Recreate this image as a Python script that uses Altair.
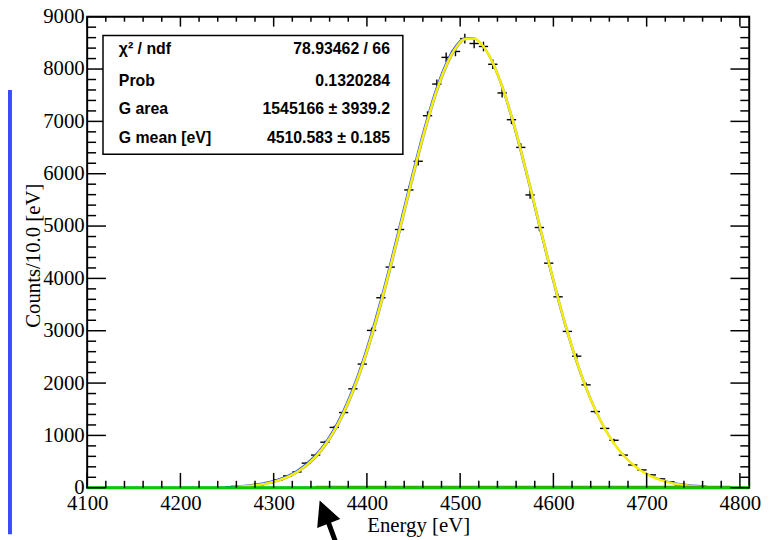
import altair as alt
import pandas as pd

# ---------------- data ----------------
energy = [4255, 4265, 4275, 4285, 4295, 4305, 4315, 4325, 4335, 4345,
          4355, 4365, 4375, 4385, 4395, 4405, 4415, 4425, 4435, 4445,
          4455, 4465, 4475, 4485, 4495, 4505, 4515, 4525, 4535, 4545,
          4555, 4565, 4575, 4585, 4595, 4605, 4615, 4625, 4635, 4645,
          4655, 4665, 4675, 4685, 4695, 4705, 4715, 4725, 4735, 4745,
          4755, 4765]
counts = [12, 22, 36, 58, 98, 151, 227, 302, 470, 624,
          870, 1153, 1437, 1890, 2363, 3006, 3630, 4216, 4934, 5690,
          6238, 7108, 7713, 8223, 8336, 8582, 8488, 8431, 8091, 7543,
          7032, 6503, 5595, 4972, 4291, 3648, 2987, 2514, 1966, 1456,
          1134, 907, 624, 435, 340, 246, 170, 113, 57, 40,
          25, 14]
fit = [15, 24, 39, 61, 94, 141, 208, 301, 429, 597,
       816, 1094, 1439, 1853, 2344, 2906, 3535, 4216, 4932, 5659,
       6366, 7025, 7602, 8069, 8399, 8574, 8584, 8428, 8116, 7665,
       7099, 6449, 5746, 5020, 4302, 3615, 2979, 2408, 1909, 1484,
       1132, 846, 621, 446, 315, 218, 148, 98, 64, 41,
       26, 16]
bin_width = 10

baseline_E = [4100, 4810]
baseline_N = [0, 0]
bkg_E = [4345, 4420, 4480, 4560, 4650, 4790]
bkg_N = [22, 24, 25, 24, 22, 22]
blue_E = [4248, 4262]
blue_N = [12, 12]

x_major = [4100, 4200, 4300, 4400, 4500, 4600, 4700, 4800]
x_minor = [4120, 4140, 4160, 4180, 4220, 4240, 4260, 4280, 4320, 4340, 4360,
           4380, 4420, 4440, 4460, 4480, 4520, 4540, 4560, 4580, 4620, 4640,
           4660, 4680, 4720, 4740, 4760, 4780]
y_major = [0, 1000, 2000, 3000, 4000, 5000, 6000, 7000, 8000, 9000]
y_minor = [v for v in range(200, 9000, 200) if v % 1000 != 0]

stats_labels = ["χ² / ndf", "Prob", "G area", "G mean [eV]"]
stats_values = ["78.93462 / 66", "0.1320284", "1545166 ± 3939.2", "4510.583 ± 0.185"]

# ---------------- layout ----------------
W, H = 669, 476
xs = alt.Scale(domain=[4100, 4810], nice=False, zero=False)
ys = alt.Scale(domain=[0, 9000], nice=False, zero=False)
SERIF = "Liberation Serif"
SANS = "Liberation Sans"

hist = pd.DataFrame({"E": energy, "N": counts})
fitdf = pd.DataFrame({"E": energy, "F": fit})

X = lambda f: alt.X(f, scale=xs)
Y = lambda f: alt.Y(f, scale=ys)

# histogram horizontal bars (carry the axes)
hbars = alt.Chart(hist).transform_calculate(
    xl=f"datum.E - {bin_width / 2}", xh=f"datum.E + {bin_width / 2}"
).mark_rule(color="black", strokeWidth=1.4).encode(
    x=alt.X("xl:Q", scale=xs, axis=alt.Axis(
        values=x_major, format="d", ticks=False, domain=False, grid=False,
        labelFont=SERIF, labelFontSize=21, labelColor="black", labelPadding=5,
        labelOverlap=False, labelFlush=False,
        title="Energy [eV]", titleFont=SERIF, titleFontSize=21,
        titleFontWeight="normal", titleColor="black",
        titleBaseline="alphabetic", titleY=44)),
    x2="xh:Q",
    y=alt.Y("N:Q", scale=ys, axis=alt.Axis(
        values=y_major, format="d", ticks=False, domain=False, grid=False,
        labelFont=SERIF, labelFontSize=21, labelColor="black", labelPadding=3,
        labelOverlap=False, labelFlush=False,
        title="Counts/10.0 [eV]", titleFont=SERIF, titleFontSize=21,
        titleFontWeight="normal", titleColor="black", titleAngle=270,
        titleX=-54, titleY=241, titleAlign="center", titleBaseline="middle")),
)

vbars = alt.Chart(hist).transform_calculate(
    lo="datum.N - sqrt(datum.N)", hi="datum.N + sqrt(datum.N)"
).mark_rule(color="black", strokeWidth=1.4).encode(
    x=X("E:Q"), y=Y("lo:Q"), y2="hi:Q",
)

fit_blue = alt.Chart(fitdf).mark_line(
    color="#3050ff", strokeWidth=1.2, interpolate="monotone", xOffset=-1, yOffset=-1
).encode(x=X("E:Q"), y=Y("F:Q"))

fit_gray = alt.Chart(fitdf).mark_line(
    color="#a0a0a0", strokeWidth=1.2, interpolate="monotone", xOffset=1, yOffset=0.5
).encode(x=X("E:Q"), y=Y("F:Q"))

fit_yellow = alt.Chart(fitdf).mark_line(
    color="#f6f000", strokeWidth=2.4, interpolate="monotone"
).encode(x=X("E:Q"), y=Y("F:Q"))

bkg = alt.Chart(pd.DataFrame({"E": bkg_E, "N": bkg_N})).mark_line(
    color="#e04a1a", strokeWidth=1.5
).encode(x=X("E:Q"), y=Y("N:Q"))

blue_bit = alt.Chart(pd.DataFrame({"E": blue_E, "N": blue_N})).mark_line(
    color="#2040ff", strokeWidth=2
).encode(x=X("E:Q"), y=Y("N:Q"))

green = alt.Chart(pd.DataFrame({"E": baseline_E, "N": baseline_N})).mark_line(
    color="#00cc00", strokeWidth=3
).encode(x=X("E:Q"), y=Y("N:Q"))

# ROOT-style inward ticks
def xticks(vals, y0, y1):
    return alt.Chart(pd.DataFrame({"E": vals})).mark_rule(color="black", strokeWidth=1.5).encode(
        x=X("E:Q"), y=alt.value(y0), y2=alt.value(y1))

def yticks(vals, x0, x1):
    return alt.Chart(pd.DataFrame({"N": vals})).mark_rule(color="black", strokeWidth=1.5).encode(
        y=Y("N:Q"), x=alt.value(x0), x2=alt.value(x1))

ticks = [
    xticks(x_major, H, H - 15), xticks(x_minor, H, H - 7),
    xticks(x_major, 0, 10), xticks(x_minor, 0, 5),
    yticks(y_major, 0, 19), yticks(y_minor, 0, 9),
    yticks(y_major, W, W - 19), yticks(y_minor, W, W - 9),
]

one = pd.DataFrame({"k": [0]})

# statistics box
box = alt.Chart(one).mark_rect(fill="white", stroke="black", strokeWidth=1.5).encode(
    x=alt.value(16), x2=alt.value(319), y=alt.value(19), y2=alt.value(139))

row_y = [33, 65, 93, 123]
stat_layers = []
for lab, val, ry in zip(stats_labels, stats_values, row_y):
    stat_layers.append(alt.Chart(one).mark_text(
        text=lab, font=SANS, fontWeight="bold", fontSize=16, align="left",
        baseline="middle", color="black").encode(x=alt.value(32), y=alt.value(ry)))
    stat_layers.append(alt.Chart(one).mark_text(
        text=val, font=SANS, fontWeight="bold", fontSize=16, align="right",
        baseline="middle", color="black").encode(x=alt.value(306), y=alt.value(ry)))

# annotation arrow below the axis and blue bracket at the left edge
arrow_head = alt.Chart(one).mark_point(
    shape="M0,-1L1,1L-1,1Z", size=625, filled=True, color="black", opacity=1,
    angle=338.6, strokeWidth=0).encode(x=alt.value(239.5), y=alt.value(500.5))
arrow_shaft = alt.Chart(one).mark_rule(color="black", strokeWidth=5).encode(
    x=alt.value(243), y=alt.value(509), x2=alt.value(251.5), y2=alt.value(532))
bracket = alt.Chart(one).mark_rect(fill="transparent", stroke="#3b4cff", strokeWidth=4).encode(
    x=alt.value(-110), x2=alt.value(-78), y=alt.value(76), y2=alt.value(521))

chart = alt.layer(
    hbars, vbars, fit_gray, fit_blue, fit_yellow, bkg, blue_bit, green,
    *ticks, box, *stat_layers, arrow_head, arrow_shaft, bracket
).properties(
    width=W, height=H,
    padding={"left": 80, "top": 6, "right": 21, "bottom": 50},
    autosize=alt.AutoSizeParams(type="none"),
    background="white",
).configure_view(stroke="black", strokeWidth=2).configure_axis(
    grid=False, ticks=False, domain=False
)

chart.save("out.html", embed_options={"renderer": "svg", "actions": False})
